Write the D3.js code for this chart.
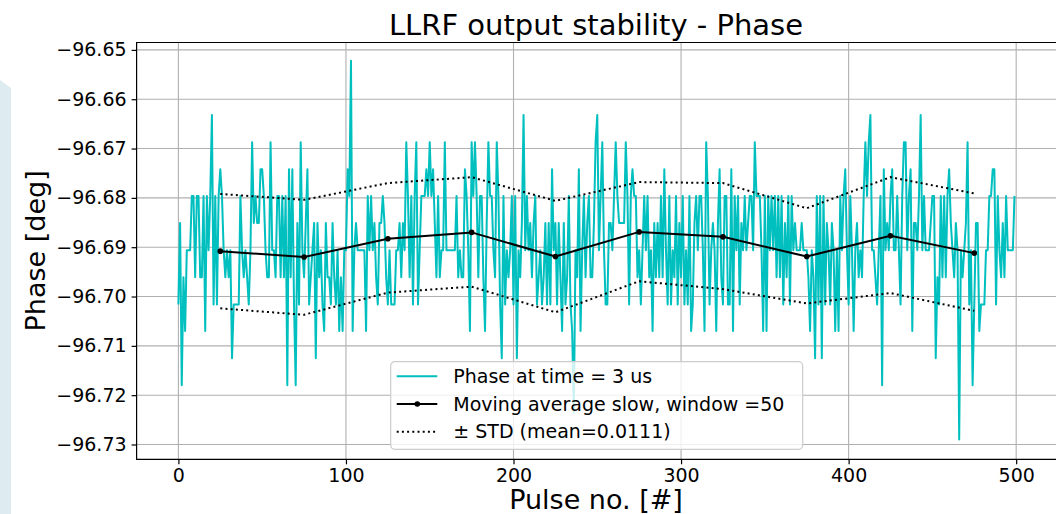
<!DOCTYPE html>
<html>
<head>
<meta charset="utf-8">
<script src="https://cdn.jsdelivr.net/npm/d3@7"></script>
<style>
  html, body { margin: 0; padding: 0; background: #ffffff; }
  svg { display: block; font-family: "DejaVu Sans", sans-serif; }
</style>
</head>
<body>
<div id="chart"></div>
<script>
// Tick labels
const pulseTicks = [0, 100, 200, 300, 400, 500];
const phaseTicks = [-96.73, -96.72, -96.71, -96.70, -96.69, -96.68, -96.67, -96.66, -96.65];

// The measured phase only takes a few discrete values (ADC steps), index = code + 7
const phaseLevels = [-96.7290, -96.7235, -96.7180, -96.7125, -96.7070, -96.7016, -96.6961, -96.6906,
                     -96.6851, -96.6796, -96.6742, -96.6687, -96.6632, -96.6577, -96.6522];

// Phase at time = 3 us, one code per pulse (0..499)
const phaseCodes = [
  -2, 1, -5, -1, -3, 0, 0, 0, 2, 2,   -1, 2, 2, -1, -1, 2, -3, 2, 0, 2,
  5, -2, 2, -2, 2, 3, 2, 0, -1, 0,    -1, 0, -4, -2, -2, -2, -2, 2, 0, -1,
  0, -1, -2, 0, 4, 1, 2, 1, 1, 3,     3, 2, 0, -1, -1, 4, 0, 0, -1, 2,
  2, -1, 2, -1, 2, -5, 3, -1, 3, -2,  -5, 1, -2, 4, 0, -1, 1, 3, -2, -1,
  0, 1, -4, 1, -1, 0, -2, -3, 1, -1,  -1, -2, 1, -1, -2, 0, -3, -1, -3, 0,
  0, 3, 2, 7, -3, 0, 1, 0, 0, 0,      0, 0, -3, 2, 0, 2, 0, 1, -1, -2,
  1, 1, 2, 1, -1, -2, 0, -2, -2, -2,  0, 0, 1, -1, 1, 0, 4, 2, -1, 2,
  -2, 2, 4, -2, 0, 2, 2, 2, 3, 2,     4, 2, 3, 1, -1, 2, -1, 0, 0, 4,
  0, 0, 0, 0, 0, 0, 2, -1, 0, -1,     -1, 3, 2, 0, -3, 4, 2, 4, 2, -1,
  2, 2, -1, -3, 1, 4, 2, 2, 0, -1,    4, 2, -2, -4, 2, -2, 0, -1, 0, 2,
  -2, 2, -4, 0, -1, 1, 5, 0, 2, 0,    1, -1, 1, 2, -2, -1, 0, -2, -1, 1,
  -2, 1, -2, 3, 0, 1, -2, 1, -1, -3,  1, -2, -1, 2, -2, -3, -6, 0, -1, 3,
  -3, 0, 2, -1, 1, 2, -1, -1, 1, 4,   5, 0, 2, 4, 0, -2, -2, 1, 1, 0,
  2, 4, 2, 1, 1, 1, 1, 4, 2, -2,      2, 3, 2, 2, -1, 0, -2, 0, 2, 0,
  2, -1, 0, -3, 1, -1, 1, -1, 2, -1,  3, 0, -2, 2, -2, 0, -1, 2, -2, 1,
  -1, 2, -2, 0, -2, 2, -3, -2, 1, 2,  0, 2, 2, 0, -3, 4, 2, -2, 0, 1,
  0, -3, 1, 3, -1, -2, 2, 2, -2, -2,  3, -3, 2, 0, 2, -2, 1, 0, 2, 0,
  1, 2, 2, 0, 4, 2, 2, 2, 0, -3,      2, -3, 2, 0, 2, 0, 2, -1, 2, -1,
  2, -2, 1, -1, 2, -2, 2, 0, 1, 0,    0, 0, 1, 0, 0, 0, -1, -3, 0, -1,
  -4, 2, -2, 2, -4, 2, -2, 1, 0, -2,  1, 0, -3, 0, -3, 2, 0, 2, 3, 0,
  -2, 2, 0, -3, 0, 1, -1, 0, -1, 2,   4, 2, 4, 5, 0, 0, -1, -2, 0, 2,
  -5, 3, 0, 1, 0, 2, 3, 0, 0, 2,      0, -2, 2, 4, 4, 0, 2, 3, -3, 1,
  1, 0, 2, 5, 0, 2, 0, 0, 0, 1,       2, 2, -4, -1, -2, 2, -1, 2, -1, 2,
  3, 1, 0, -1, 1, 0, -7, 0, -1, 0,    1, 4, -2, 0, -5, -2, 1, 1, -3, -2,
  -2, -2, 0, 0, 2, 2, 3, 3, -2, 2,    0, -1, 1, -1, 2, 0, 0, 0, 0, 2
];

// Moving average (window 50) and the +/- STD envelope
const avgPulses = [25, 75, 125, 175, 225, 275, 325, 375, 425, 475];
const avgPhase = [-96.6908, -96.6920, -96.6883, -96.6870, -96.6919, -96.6869, -96.6879, -96.6919, -96.6877, -96.6912];
const stdUpper = [-96.6792, -96.6804, -96.6770, -96.6758, -96.6806, -96.6768, -96.6770, -96.6821, -96.6758, -96.6791];
const stdLower = [-96.7024, -96.7037, -96.6992, -96.6980, -96.7032, -96.6969, -96.6985, -96.7014, -96.6993, -96.7029];

const legendLabels = ["Phase at time = 3 us", "Moving average slow, window =50", "\u00b1 STD (mean=0.0111)"];

// Chart for the LLRF phase stability
class PhaseChart {
    constructor(container) {
        this.container = container;            // Where the svg goes
        this.width = 1056;                     // Full page width
        this.height = 514;                     // Full page height
        this.plot = { left: 136.6, right: 1056.3, top: 42.5, bottom: 459.3 }; // Axes box (right spine just off the page)
        this.cyan = "#00bfbf";                 // matplotlib 'c'
        this.initChart();
    }

    initChart() {
        // Create the svg
        this.svg = d3.select(this.container)
            .append("svg")
            .attr("width", this.width)
            .attr("height", this.height);

        // Pale strip at the left edge of the slide
        this.svg.append("path")
            .attr("d", "M0,80 L11,88 L11,514 L0,514 Z")
            .attr("fill", "#deebf0");

        // Scales (x padded by 5% of the data range like matplotlib)
        this.xScale = d3.scaleLinear().domain([-24.95, 523.95]).range([this.plot.left, this.plot.right]);
        this.yScale = d3.scaleLinear().domain([-96.7330, -96.6485]).range([this.plot.bottom, this.plot.top]);

        const fmt = d => d3.format(".2f")(d).replace("-", "\u2212"); // Unicode minus like matplotlib

        // Grid lines
        const grid = this.svg.append("g").attr("stroke", "#b0b0b0").attr("stroke-width", 1.1);
        grid.selectAll(".vgrid").data(pulseTicks).join("line")
            .attr("x1", d => this.xScale(d)).attr("x2", d => this.xScale(d))
            .attr("y1", this.plot.top).attr("y2", this.plot.bottom);
        grid.selectAll(".hgrid").data(phaseTicks).join("line")
            .attr("y1", d => this.yScale(d)).attr("y2", d => this.yScale(d))
            .attr("x1", this.plot.left).attr("x2", this.plot.right);

        // Raw phase trace
        const phase = phaseCodes.map((c, i) => ({ x: i, y: phaseLevels[c + 7] }));
        const line = d3.line().x(d => this.xScale(d.x)).y(d => this.yScale(d.y));
        this.svg.append("path")
            .datum(phase)
            .attr("fill", "none")
            .attr("stroke", this.cyan)
            .attr("stroke-width", 2)
            .attr("stroke-linejoin", "round")
            .attr("d", line);

        // Moving average with dot markers
        const avg = avgPulses.map((p, i) => ({ x: p, y: avgPhase[i] }));
        this.svg.append("path")
            .datum(avg)
            .attr("fill", "none")
            .attr("stroke", "#000")
            .attr("stroke-width", 2)
            .attr("d", line);
        this.svg.selectAll(".dot").data(avg).join("circle")
            .attr("class", "dot")
            .attr("r", 2.8)
            .attr("cx", d => this.xScale(d.x))
            .attr("cy", d => this.yScale(d.y))
            .attr("fill", "#000");

        // STD envelope, dotted
        [stdUpper, stdLower].forEach(arr => {
            this.svg.append("path")
                .datum(avgPulses.map((p, i) => ({ x: p, y: arr[i] })))
                .attr("fill", "none")
                .attr("stroke", "#000")
                .attr("stroke-width", 2)
                .attr("stroke-dasharray", "2,3.2")
                .attr("d", line);
        });

        // Axes
        const xAxis = this.svg.append("g")
            .attr("transform", `translate(0,${this.plot.bottom})`)
            .call(d3.axisBottom(this.xScale).tickValues(pulseTicks).tickSize(5).tickPadding(4).tickSizeOuter(0));
        const yAxis = this.svg.append("g")
            .attr("transform", `translate(${this.plot.left},0)`)
            .call(d3.axisLeft(this.yScale).tickValues(phaseTicks).tickFormat(fmt).tickSize(5).tickPadding(5).tickSizeOuter(0));
        [xAxis, yAxis].forEach(a => {
            a.select(".domain").remove();
            a.selectAll("line").attr("stroke", "#000").attr("stroke-width", 1.2);
            a.selectAll("text").attr("fill", "#000").style("font-size", "19px").style("font-family", "DejaVu Sans");
        });

        // Spines (left, bottom, top)
        const spines = this.svg.append("g").attr("stroke", "#000").attr("stroke-width", 1.2).attr("fill", "none");
        spines.append("path")
            .attr("d", `M${this.plot.right},${this.plot.top} L${this.plot.left},${this.plot.top} L${this.plot.left},${this.plot.bottom} L${this.plot.right},${this.plot.bottom}`);

        // Title
        this.svg.append("text")
            .attr("x", 596)
            .attr("y", 35)
            .attr("text-anchor", "middle")
            .style("font-size", "29px")
            .text("LLRF output stability - Phase");

        // Axis labels
        this.svg.append("text")
            .attr("x", 596)
            .attr("y", 509)
            .attr("text-anchor", "middle")
            .style("font-size", "27px")
            .text("Pulse no. [#]");
        this.svg.append("text")
            .attr("transform", `translate(44.5,${(this.plot.top + this.plot.bottom) / 2}) rotate(-90)`)
            .attr("text-anchor", "middle")
            .style("font-size", "27px")
            .text("Phase [deg]");

        this.drawLegend();
    }

    drawLegend() {
        const g = this.svg.append("g").attr("transform", "translate(390.7,361.7)");
        // Frame, white with 0.8 alpha like matplotlib
        g.append("rect")
            .attr("width", 412)
            .attr("height", 87.6)
            .attr("rx", 4)
            .attr("fill", "#ffffff")
            .attr("fill-opacity", 0.8)
            .attr("stroke", "#cccccc")
            .attr("stroke-width", 1.2);

        const rows = legendLabels.map((label, i) => ({ label, i, y: 14.5 + i * 27.8 }));
        const row = g.selectAll(".row").data(rows).join("g")
            .attr("transform", d => `translate(0,${d.y})`);

        // Handles
        row.append("line")
            .attr("x1", 6).attr("x2", 46.6)
            .attr("stroke", d => d.i === 0 ? this.cyan : "#000")
            .attr("stroke-width", 2)
            .attr("stroke-dasharray", d => d.i === 2 ? "2,3.2" : null);
        row.filter(d => d.i === 1).append("circle")
            .attr("cx", 26.6).attr("r", 2.8).attr("fill", "#000");

        // Labels
        row.append("text")
            .attr("x", 62.6)
            .attr("dy", "0.35em")
            .style("font-size", "19px")
            .text(d => d.label);
    }
}

new PhaseChart("#chart");
</script>
</body>
</html>
